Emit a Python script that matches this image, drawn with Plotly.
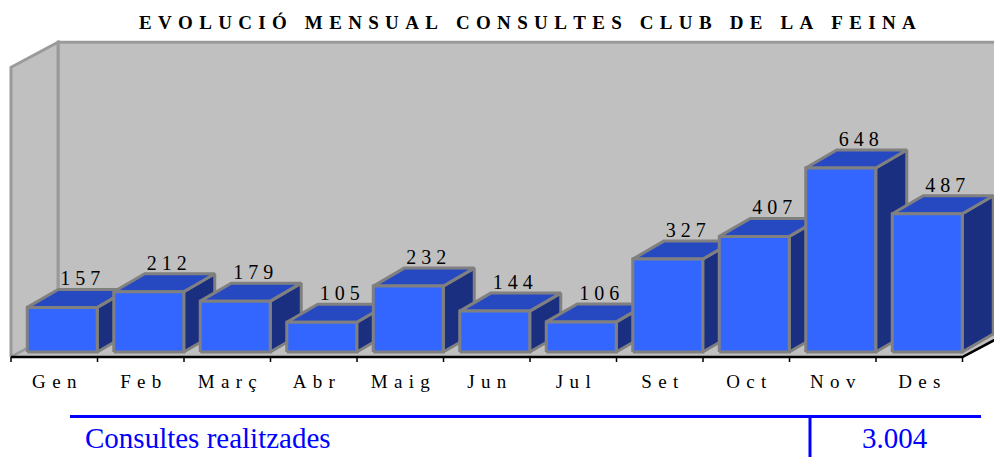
import plotly.graph_objects as go

# ---- data ----
months = ["Gen", "Feb", "Març", "Abr", "Maig", "Jun", "Jul", "Set", "Oct", "Nov", "Des"]
consultes = [157, 212, 179, 105, 232, 144, 106, 327, 407, 648, 487]
title_text = "EVOLUCIÓ MENSUAL CONSULTES CLUB DE LA FEINA"
total_name = "Consultes realitzades"
total_value = "{:,}".format(sum(consultes)).replace(",", ".")

# ---- layout geometry (styles) ----
W, H = 1002, 457
OFF = 8  # the page body margin; positions below are page pixels
X_RANGE = [-0.5347, 11.049]
Y_RANGE = [-380.2, 1228.7]
PX_X = W / (X_RANGE[1] - X_RANGE[0])
PX_Y = H / (Y_RANGE[1] - Y_RANGE[0])


def dx(px):
    return px / PX_X


def dv(px):
    return px / PX_Y


def px_x(p):
    return (p - OFF) / W


def px_y(p):
    return 1 - (p - OFF) / H


WALL_TOP = 1020
FD = (dx(47), dv(25))      # floor / wall depth
BOFF = (dx(8), dv(5))      # bar offset from the front edge
BD = (dx(31), dv(18))      # bar depth
HALF = dx(35)

FONT = "Liberation Serif, Times New Roman, serif"
WALL_FILL = "#C0C0C0"
WALL_LINE = "#9A9A9A"
BAR_LINE = "#808080"
FRONT = "#3366FF"
TOP = "#2649C2"
SIDE = "#1B2F80"

fig = go.Figure()


def poly(xs, ys, fill, line, width):
    fig.add_trace(go.Scatter(
        x=xs + [xs[0]], y=ys + [ys[0]], mode="lines", fill="toself",
        fillcolor=fill, line=dict(color=line, width=width),
        hoverinfo="skip", showlegend=False))


# walls and floor
x_left = -0.5
x_right = len(months) - 0.5
poly([x_left + FD[0], 12, 12, x_left + FD[0]],
     [FD[1], FD[1], WALL_TOP + FD[1], WALL_TOP + FD[1]], WALL_FILL, WALL_LINE, 3)
poly([x_left, x_left, x_left + FD[0], x_left + FD[0]],
     [0, WALL_TOP, WALL_TOP + FD[1], FD[1]], WALL_FILL, WALL_LINE, 3)
poly([x_left, x_right, x_right + FD[0], x_left + FD[0]],
     [0, 0, FD[1], FD[1]], WALL_FILL, WALL_LINE, 2)

# bars
for i, v in enumerate(consultes):
    cx = i + BOFF[0]
    b = BOFF[1]
    t = v + b
    poly([cx + HALF, cx + HALF + BD[0], cx + HALF + BD[0], cx + HALF],
         [b, b + BD[1], t + BD[1], t], SIDE, BAR_LINE, 3)
    poly([cx - HALF, cx + HALF, cx + HALF + BD[0], cx - HALF + BD[0]],
         [t, t, t + BD[1], t + BD[1]], TOP, BAR_LINE, 3)
    poly([cx - HALF, cx + HALF, cx + HALF, cx - HALF],
         [b, b, t, t], FRONT, BAR_LINE, 3)

# front floor edge (axis line) and ticks
fig.add_trace(go.Scatter(
    x=[x_left, x_right, x_right + 2 * FD[0]], y=[0, 0, 2 * FD[1]],
    mode="lines", line=dict(color="black", width=2.5),
    hoverinfo="skip", showlegend=False))
tx, ty = [], []
for k in range(len(months) + 1):
    tx += [k - 0.5, k - 0.5, None]
    ty += [0, -dv(5), None]
fig.add_trace(go.Scatter(x=tx, y=ty, mode="lines", line=dict(color="black", width=1.5),
                         hoverinfo="skip", showlegend=False))

# category labels
fig.add_trace(go.Scatter(
    x=list(range(len(months))), y=[-dv(26)] * len(months), mode="text",
    text=["\u00a0\u200a".join(m) for m in months], textposition="middle center",
    textfont=dict(family=FONT, size=19, color="black"),
    hoverinfo="skip", showlegend=False, cliponaxis=False))

# value labels (above the top face)
fig.add_trace(go.Scatter(
    x=[i + BOFF[0] + dx(18) for i in range(len(consultes))],
    y=[v + BOFF[1] + BD[1] - dv(1) for v in consultes], mode="text",
    text=["\u00a0".join(str(v)) for v in consultes], textposition="top center",
    textfont=dict(family=FONT, size=20, color="black"),
    hoverinfo="skip", showlegend=False, cliponaxis=False))

spaced_title = "\u00a0\u00a0\u00a0\u2009".join("\u00a0\u200a".join(w) for w in title_text.split(" "))

fig.update_layout(
    width=W, height=H, margin=dict(l=0, r=0, t=0, b=0),
    paper_bgcolor="white", plot_bgcolor="white",
    xaxis=dict(range=X_RANGE, visible=False, fixedrange=True),
    yaxis=dict(range=Y_RANGE, visible=False, fixedrange=True),
    annotations=[
        dict(text="<b>" + spaced_title + "</b>", x=px_x(527), y=px_y(23),
             xref="paper", yref="paper", xanchor="center", yanchor="middle",
             showarrow=False, font=dict(family=FONT, size=19, color="black")),
        dict(text=total_name, x=px_x(83), y=px_y(438), xref="paper", yref="paper",
             xanchor="left", yanchor="middle", showarrow=False,
             font=dict(family=FONT, size=29, color="#0000FF")),
        dict(text=total_value, x=px_x(895), y=px_y(438), xref="paper", yref="paper",
             xanchor="center", yanchor="middle", showarrow=False,
             font=dict(family=FONT, size=29, color="#0000FF")),
    ],
    shapes=[
        dict(type="line", xref="paper", yref="paper", x0=px_x(70), x1=px_x(981),
             y0=px_y(416.5), y1=px_y(416.5), line=dict(color="#0000FF", width=3)),
        dict(type="line", xref="paper", yref="paper", x0=px_x(810), x1=px_x(810),
             y0=px_y(416.5), y1=0, line=dict(color="#0000FF", width=3)),
    ],
)

fig.write_html("out.html")
